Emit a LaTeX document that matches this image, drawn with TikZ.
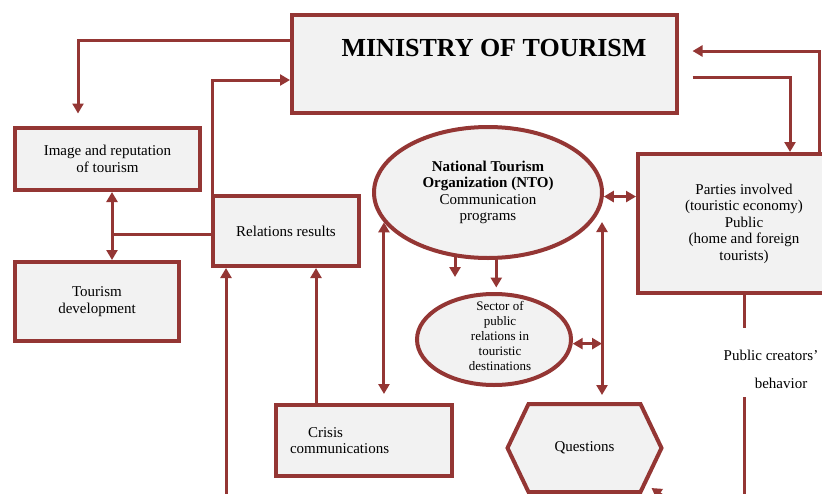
\documentclass[tikz,border=0pt]{standalone}
\usepackage{fontspec}
\setmainfont{Liberation Serif}
\usetikzlibrary{arrows.meta,shapes.geometric}
\definecolor{rust}{HTML}{943634}
\definecolor{paper}{HTML}{F2F2F2}
\tikzset{
  frame/.style={draw=rust, line width=4pt, fill=paper},
  box/.style={frame, inner sep=0pt, align=center, font=\fontsize{15}{16.5}\selectfont},
  oval/.style={box, ellipse},
  plain/.style={align=center, font=\fontsize{15}{16.5}\selectfont},
  link/.style={draw=rust, line width=3pt},
  arr/.style={link, -{Triangle[length=10pt,width=11pt]}},
  darr/.style={link, {Triangle[length=10pt,width=11pt]}-{Triangle[length=10pt,width=11pt]}}
}

\begin{document}
\begin{tikzpicture}[x=1pt,y=-1pt]
    \useasboundingbox (0,0) rectangle (822,493);
    \clip (0,0) rectangle (822,493);

    \node[box, minimum width=385pt, minimum height=98pt] (ministry) at (484.5,64) {};
    \node[font=\fontsize{26}{30}\selectfont\bfseries] (ministrytext) at (494,48) {MINISTRY OF TOURISM};

    \node[box, minimum width=185pt, minimum height=62pt] (image) at (107.5,159) {Image and reputation\\of tourism};
    \node[box, minimum width=164pt, minimum height=79pt] (tourism) at (97,301.5) {Tourism\\development};
    \node[box, minimum width=146pt, minimum height=70pt] (relations) at (286,231) {Relations results};
    \node[box, align=left, text width=148pt, inner xsep=14pt, minimum height=71pt] (crisis) at (364,440.5) {\hspace*{18pt}Crisis\\communications};

    \node[oval, minimum width=228pt, minimum height=131pt] (nto) at (488,192.5) {\textbf{National Tourism}\\\textbf{Organization (NTO)}\\Communication\\programs};
    \node[oval, minimum width=154pt, minimum height=91pt] (sector) at (494,339.5) {};
    \node[plain, font=\fontsize{13}{15}\selectfont] (sectortext) at (500,336) {Sector of\\public\\relations in\\touristic\\destinations};

    \node[box, minimum width=212pt, minimum height=139pt] (parties) at (744,223.5) {Parties involved\\(touristic economy)\\Public\\(home and foreign\\tourists)};

    \coordinate (qmid) at (584.5,448);
    \draw[frame, shift={(qmid)}] (-77,0) -- (-56,-44) -- (56,-44) -- (77,0) -- (56,44) -- (-56,44) -- cycle;
    \node[plain] (questions) at (qmid) {Questions};
    \coordinate (qtop) at (584.5,402);

    \node[plain] (creators) at (771,355) {Public creators'};
    \node[plain] (behavior) at (781,383) {behavior};

    \draw[arr] ([yshift=24pt]ministry.west) -| ([xshift=-29.5pt,yshift=12.5pt]image.north);
    \draw[arr] ([xshift=1pt]relations.north west) |- ([yshift=-16pt]ministry.west);

    \coordinate (split) at (112,234);
    \draw[darr] ([xshift=4.5pt]image.south) -- ([xshift=4.5pt]image.south |- tourism.north);
    \draw[link] (split) -- (split -| relations.west);

    \coordinate (relfoot) at (226,500);
    \draw[arr] (relfoot) -- (relfoot |- relations.south);
    \draw[arr] ([xshift=-48pt]crisis.north) -- ([xshift=-48pt]crisis.north |- relations.south);

    \draw[darr, shorten >=9pt] (nto.196) -- (nto.196 |- crisis.north);
    \draw[arr, shorten >=15pt] (nto.243) -- (nto.243 |- sector.north);
    \draw[arr, shorten >=4.5pt] (nto.277) -- (nto.277 |- sector.north);

    \coordinate (qup) at (602,222);
    \draw[darr, shorten >=7pt] (qup) -- (qup |- qtop);
    \draw[darr] (sector.-3) -- (sector.-3 -| qup);
    \draw[darr] (nto.-2) -- (nto.-2 -| parties.west);

    \draw[arr] ([xshift=13.5pt,yshift=-13pt]ministry.east) -| ([xshift=46pt]parties.north);
    \draw[arr] ([xshift=75pt]parties.north) |- ([xshift=13.5pt,yshift=13pt]ministry.east);

    \coordinate (pfoot) at (744,500);
    \draw[link, shorten >=18.5pt] (parties.south) -- (parties.south |- creators.north);
    \draw[link, shorten <=5.5pt] (behavior.south -| pfoot) -- (pfoot);

    \coordinate (qfeed) at (700,522);
    \draw[arr] (qfeed) -- ([xshift=67pt,yshift=-40pt]qmid);
\end{tikzpicture}
\end{document}
